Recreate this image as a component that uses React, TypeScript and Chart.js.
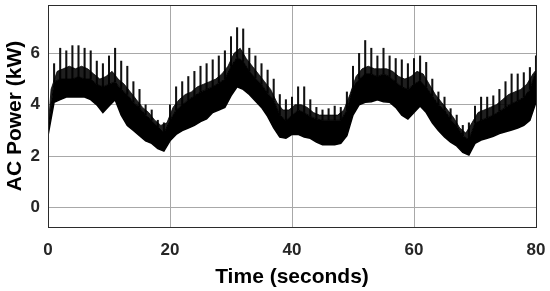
import React, { useEffect, useRef } from "react";
import { Chart, registerables } from "chart.js";

Chart.register(...registerables);

// Time in seconds (one sample per second)
const times: number[] = Array.from({ length: 81 }, (_, i) => i);

// Bottom edge of the dense band (kW)
const lowValues: number[] = [
  2.8, 4.1, 4.2, 4.3, 4.3, 4.3, 4.3, 4.2, 4.0, 3.7,
  3.95, 4.2, 3.6, 3.2, 3.0, 2.8, 2.6, 2.5, 2.3, 2.2,
  2.6, 2.85, 3.0, 3.1, 3.2, 3.35, 3.45, 3.7, 3.8, 3.9,
  4.35, 4.7, 4.6, 4.4, 4.15, 3.9, 3.55, 3.1, 2.75, 2.7,
  2.85, 2.85, 2.75, 2.7, 2.55, 2.45, 2.45, 2.45, 2.5, 2.8,
  3.6, 4.0, 4.1, 4.12, 4.2, 4.12, 4.1, 3.9, 3.6, 3.45,
  3.7, 3.95, 3.7, 3.3, 3.0, 2.75, 2.55, 2.4, 2.15, 2.05,
  2.5, 2.63, 2.7, 2.78, 2.88, 2.95, 3.02, 3.1, 3.2, 3.4,
  4.1,
];

// Top edge of the solid core of the band (kW)
const coreValues: number[] = [
  3.0, 4.9, 5.0, 5.0, 5.0, 5.1, 5.0, 5.0, 4.8, 4.7,
  4.8, 4.9, 4.6, 4.4, 4.1, 3.9, 3.6, 3.4, 3.15, 2.9,
  3.4, 3.8, 4.0, 4.2, 4.35, 4.5, 4.6, 4.7, 4.85, 5.0,
  5.5, 5.85, 5.7, 5.3, 5.05, 4.8, 4.45, 4.2, 3.6, 3.4,
  3.6, 3.8, 3.7, 3.55, 3.45, 3.4, 3.4, 3.4, 3.4, 3.8,
  4.7, 5.0, 5.2, 5.2, 5.1, 5.2, 5.1, 4.9, 4.7, 4.6,
  4.8, 4.95, 4.7, 4.35, 4.0, 3.8, 3.45, 3.2, 2.8, 2.65,
  3.3, 3.4, 3.5, 3.6, 3.75, 3.9, 4.05, 4.15, 4.3, 4.6,
  5.35,
];

// Spike maxima at each whole second (kW)
const peakValues: number[] = [
  3.1, 5.6, 6.2, 6.1, 6.3, 6.3, 6.2, 6.1, 5.7, 5.6,
  5.9, 6.2, 5.7, 5.5, 4.9, 4.6, 4.0, 3.8, 3.4, 3.3,
  4.0, 4.7, 4.9, 5.1, 5.3, 5.5, 5.6, 5.75, 5.9, 6.1,
  6.65, 7.0, 6.95, 6.2, 5.9, 5.6, 5.35, 5.0, 4.4, 4.2,
  4.3, 4.7, 4.7, 4.2, 3.9, 3.8, 3.85, 3.95, 3.9, 4.5,
  5.5, 6.0, 6.5, 6.2, 5.9, 6.2, 5.9, 5.8, 5.75, 5.6,
  5.8, 5.9, 5.65, 5.0, 4.5, 4.3, 3.85, 3.6, 3.2, 3.3,
  3.95, 4.3, 4.3, 4.35, 4.6, 4.9, 5.2, 5.2, 5.25, 5.45,
  5.9,
];

// Upper edge of the dense spike mass, at each half second 0.5 ... 79.5 (kW)
const troughValues: number[] = [
  4.6, 5.3, 5.4, 5.5, 5.4, 5.5, 5.4, 5.2, 5.0, 5.1,
  5.3, 5.0, 4.8, 4.5, 4.2, 3.9, 3.7, 3.4, 3.2, 3.3,
  3.9, 4.2, 4.4, 4.5, 4.7, 4.8, 4.9, 5.0, 5.2, 5.5,
  6.0, 6.2, 5.8, 5.5, 5.2, 4.9, 4.6, 4.1, 3.8, 3.8,
  4.0, 4.0, 3.9, 3.7, 3.6, 3.6, 3.6, 3.6, 3.8, 4.4,
  5.1, 5.4, 5.5, 5.4, 5.4, 5.4, 5.3, 5.1, 5.0, 5.1,
  5.3, 5.2, 4.8, 4.4, 4.1, 3.8, 3.5, 3.1, 2.9, 3.3,
  3.7, 3.8, 3.9, 4.0, 4.2, 4.4, 4.5, 4.6, 4.8, 5.2,
];

const xTicks: number[] = [0, 20, 40, 60, 80];
const yTicks: number[] = [0, 2, 4, 6];

const FONT = "'Liberation Sans', Arial, Helvetica, sans-serif";

const boxPlugin = {
  id: "boxPlugin",
  afterDraw(chart: any) {
    const { ctx, chartArea } = chart;
    ctx.save();
    ctx.strokeStyle = "#2b2b2b";
    ctx.lineWidth = 1;
    ctx.strokeRect(
      Math.round(chartArea.left) + 0.5,
      Math.round(chartArea.top) + 0.5,
      Math.round(chartArea.right - chartArea.left),
      Math.round(chartArea.bottom - chartArea.top)
    );
    ctx.restore();
  },
};

export default function App() {
  const canvasRef = useRef<HTMLCanvasElement | null>(null);

  useEffect(() => {
    document.body.style.margin = "0";
    const canvas = canvasRef.current;
    if (!canvas) return;
    const low = times.map((t, i) => ({ x: t, y: lowValues[i] }));
    const core = times.map((t, i) => ({ x: t, y: coreValues[i] }));
    const mass: { x: number; y: number }[] = [{ x: 0, y: coreValues[0] }];
    troughValues.forEach((v, i) => mass.push({ x: i + 0.5, y: v }));
    mass.push({ x: 80, y: coreValues[80] });
    const spikes = times.map((t, i) => ({ x: t, y: [coreValues[i], peakValues[i]] }));

    const chart = new Chart(canvas, {
      type: "line",
      data: {
        datasets: [
          {
            data: low,
            borderColor: "#000",
            borderWidth: 1.5,
            pointRadius: 0,
            fill: false,
            tension: 0,
          },
          {
            data: core,
            borderColor: "#000",
            borderWidth: 1,
            pointRadius: 0,
            fill: 0,
            backgroundColor: "#000",
            tension: 0,
          },
          {
            data: mass,
            borderColor: "rgba(0,0,0,0.8)",
            borderWidth: 1,
            pointRadius: 0,
            fill: 1,
            backgroundColor: "rgba(0,0,0,0.88)",
            tension: 0,
          },
          {
            type: "bar",
            data: spikes as any,
            backgroundColor: "#111",
            borderWidth: 0,
            barThickness: 1.4,
          } as any,
        ],
      },
      options: {
        animation: false,
        responsive: false,
        maintainAspectRatio: false,
        layout: { padding: { top: 5, right: 14, left: 0, bottom: 0 } },
        plugins: {
          legend: { display: false },
          tooltip: { enabled: false },
        },
        scales: {
          x: {
            type: "linear",
            min: 0,
            max: 80,
            offset: false,
            afterBuildTicks: (axis: any) => {
              axis.ticks = xTicks.map((v) => ({ value: v }));
            },
            afterFit: (axis: any) => {
              axis.height = 64;
              axis.paddingLeft = 0;
              axis.paddingRight = 0;
            },
            grid: {
              color: "#a8a8a8",
              lineWidth: 1,
              drawTicks: false,
              offset: false,
            },
            border: { display: false },
            ticks: {
              padding: 13,
              color: "#262626",
              font: { family: FONT, size: 17, weight: "bold" },
              maxRotation: 0,
            },
            title: {
              display: true,
              text: "Time (seconds)",
              color: "#000",
              font: { family: FONT, size: 21, weight: "bold" },
              padding: { top: 0, bottom: 1 },
            },
          },
          y: {
            type: "linear",
            min: -0.75,
            max: 7.88,
            afterBuildTicks: (axis: any) => {
              axis.ticks = yTicks.map((v) => ({ value: v }));
            },
            afterFit: (axis: any) => {
              axis.width = 48;
              axis.paddingTop = 0;
              axis.paddingBottom = 0;
            },
            grid: {
              color: "#a8a8a8",
              lineWidth: 1,
              drawTicks: false,
            },
            border: { display: false },
            ticks: {
              padding: 8,
              color: "#262626",
              font: { family: FONT, size: 17, weight: "bold" },
            },
            title: {
              display: true,
              text: "AC Power (kW)",
              color: "#000",
              font: { family: FONT, size: 21, weight: "bold" },
              padding: { top: 3, bottom: 0 },
            },
          },
        },
      },
      plugins: [boxPlugin],
    });

    return () => {
      chart.destroy();
    };
  }, []);

  return (
    <div style={{ width: 550, height: 291, background: "#fff" }}>
      <canvas ref={canvasRef} width={550} height={291} />
    </div>
  );
}
